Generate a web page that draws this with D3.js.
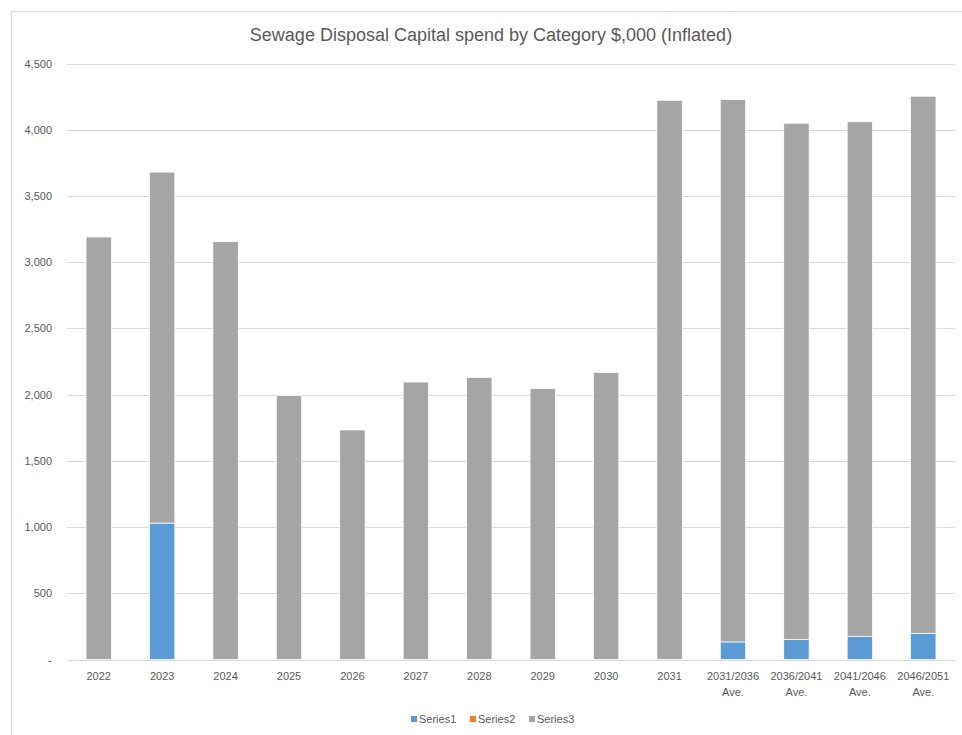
<!DOCTYPE html>
<html>
<head>
<meta charset="utf-8">
<script src="https://cdn.jsdelivr.net/npm/d3@7"></script>
<style>
  html, body { margin: 0; padding: 0; background: #fff; }
  svg { display: block; font-family: "Liberation Sans", Arial, sans-serif; }
</style>
</head>
<body>
<svg id="chart" width="962" height="735"></svg>
<script>
// Category labels (two-line labels split on "\n")
const categories = ["2022", "2023", "2024", "2025", "2026", "2027", "2028", "2029", "2030", "2031",
  "2031/2036\nAve.", "2036/2041\nAve.", "2041/2046\nAve.", "2046/2051\nAve."];
// Stacked series values, $,000
const series1 = [0, 1030, 0, 0, 0, 0, 0, 0, 0, 0, 133, 151, 175, 198];
const series2 = [0, 0, 0, 0, 0, 0, 0, 0, 0, 0, 0, 0, 0, 0];
const series3 = [3190, 2650, 3155, 1992, 1733, 2095, 2130, 2045, 2168, 4222, 4095, 3898, 3885, 4055];
const seriesNames = ["Series1", "Series2", "Series3"];
const seriesColors = ["#5B9BD5", "#ED7D31", "#A5A5A5"];
const yTicks = [0, 500, 1000, 1500, 2000, 2500, 3000, 3500, 4000, 4500];
const titleText = "Sewage Disposal Capital spend by Category $,000 (Inflated)";

const svg = d3.select("#chart");
const W = 962, H = 735;
const plot = { left: 67, right: 955, top: 63.5, bottom: 659.5 };

// chart area border
svg.append("rect")
  .attr("x", 11.5).attr("y", 11.5)
  .attr("width", W + 20).attr("height", H + 20)
  .attr("fill", "none").attr("stroke", "#D9D9D9").attr("stroke-width", 1);

const x = d3.scaleBand().domain(categories).range([plot.left, plot.right]).paddingInner(0.6).paddingOuter(0.3);
const y = d3.scaleLinear().domain([0, 4500]).range([plot.bottom, plot.top]);

// gridlines
svg.append("g").selectAll("line").data(yTicks).join("line")
  .attr("x1", plot.left).attr("x2", plot.right)
  .attr("y1", d => Math.round(y(d)) + 0.5).attr("y2", d => Math.round(y(d)) + 0.5)
  .attr("stroke", "#D9D9D9").attr("stroke-width", 1);

// y axis labels
const yAxis = d3.axisLeft(y).tickValues(yTicks)
  .tickFormat(d => d === 0 ? "-" : d3.format(",")(d))
  .tickSize(0).tickPadding(0);
const gy = svg.append("g").attr("transform", `translate(${52},0)`).call(yAxis);
gy.select(".domain").remove();
gy.selectAll("text").attr("fill", "#595959").attr("font-size", "11px")
  .attr("font-family", "Liberation Sans, Arial, sans-serif");

// stacked bars
const rows = categories.map((c, i) => ({ cat: c, Series1: series1[i], Series2: series2[i], Series3: series3[i] }));
const stack = d3.stack().keys(seriesNames)(rows);
svg.append("g").selectAll("g").data(stack).join("g")
  .attr("fill", (d, i) => seriesColors[i])
  .selectAll("rect").data(d => d.filter(p => p[1] - p[0] > 0)).join("rect")
  .attr("x", d => x(d.data.cat))
  .attr("width", x.bandwidth())
  .attr("y", d => y(d[1]))
  .attr("height", d => y(d[0]) - y(d[1]))
  .attr("stroke", "#ffffff").attr("stroke-width", 0.75);

// x axis labels
const xAxis = d3.axisBottom(x).tickSize(0).tickPadding(0).tickFormat("");
const gx = svg.append("g").attr("transform", `translate(0,${plot.bottom})`).call(xAxis);
gx.select(".domain").remove();
gx.selectAll(".tick").each(function(d) {
  const t = d3.select(this).append("text")
    .attr("fill", "#595959").attr("font-size", "11px").attr("text-anchor", "middle")
    .attr("font-family", "Liberation Sans, Arial, sans-serif");
  d.split("\n").forEach((line, k) => {
    t.append("tspan").attr("x", 0).attr("y", 20 + k * 16).text(line);
  });
});

// title
svg.append("text")
  .attr("x", 491).attr("y", 41)
  .attr("text-anchor", "middle")
  .attr("fill", "#595959").attr("font-size", "18px")
  .text(titleText);

// legend
const legendX = [411, 470, 529];
const lg = svg.append("g").selectAll("g").data(seriesNames).join("g")
  .attr("transform", (d, i) => `translate(${legendX[i]},${716})`);
lg.append("rect").attr("width", 6).attr("height", 6).attr("fill", (d, i) => seriesColors[i]);
lg.append("text").attr("x", 8).attr("y", 6.5)
  .attr("fill", "#595959").attr("font-size", "11px").text(d => d);
</script>
</body>
</html>
